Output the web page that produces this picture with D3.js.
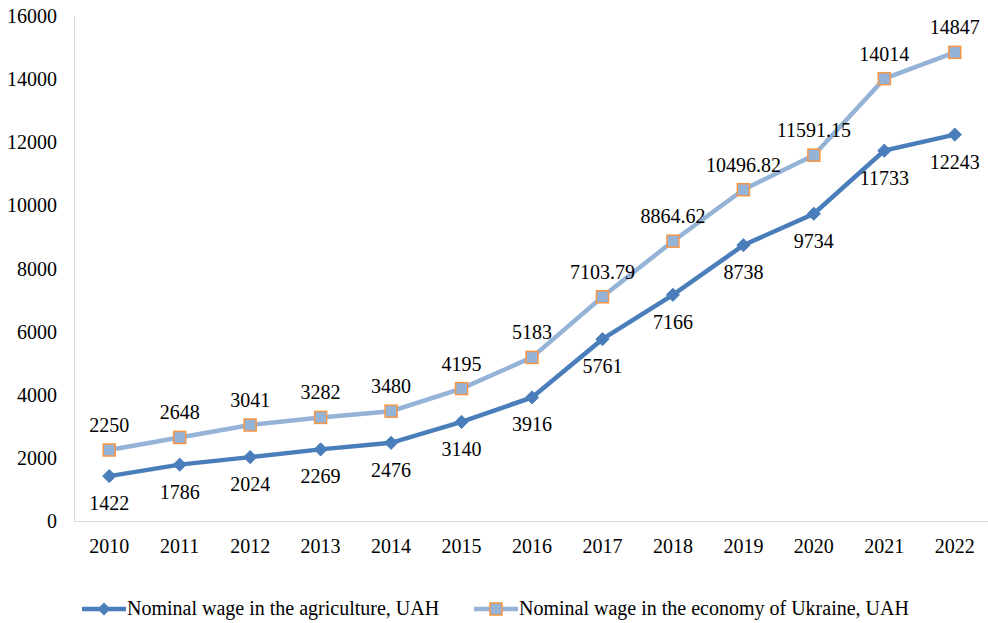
<!DOCTYPE html>
<html>
<head>
<meta charset="utf-8">
<script src="https://cdn.jsdelivr.net/npm/d3@7"></script>
<style>
  body { margin: 0; background: #fff; }
</style>
</head>
<body>
<svg id="chart" width="988" height="623"></svg>
<script>
const years = ["2010", "2011", "2012", "2013", "2014", "2015", "2016", "2017", "2018", "2019", "2020", "2021", "2022"];
const agriculture = [1422, 1786, 2024, 2269, 2476, 3140, 3916, 5761, 7166, 8738, 9734, 11733, 12243];
const economy = [2250, 2648, 3041, 3282, 3480, 4195, 5183, 7103.79, 8864.62, 10496.82, 11591.15, 14014, 14847];
const yTicks = [0, 2000, 4000, 6000, 8000, 10000, 12000, 14000, 16000];

const svg = d3.select("#chart");
const fs = "20px";
const ff = '"Liberation Serif"';

const x = d3.scaleBand()
            .domain(years)
            .range([74, 990]);

const y = d3.scaleLinear()
            .domain([0, 16000])
            .range([521, 16]);

const cx = d => x(d) + x.bandwidth() / 2;

// axes
svg.append("line")
   .attr("x1", 74.5).attr("x2", 74.5)
   .attr("y1", 16).attr("y2", 521)
   .attr("stroke", "#d9d9d9").attr("stroke-width", 1);
svg.append("line")
   .attr("x1", 74).attr("x2", 990)
   .attr("y1", 521.5).attr("y2", 521.5)
   .attr("stroke", "#d9d9d9").attr("stroke-width", 1);

svg.selectAll(".ytick")
   .data(yTicks)
   .enter().append("text")
   .attr("class", "ytick")
   .attr("x", 57)
   .attr("y", d => y(d) + 7)
   .attr("text-anchor", "end")
   .style("font-family", ff)
   .style("font-size", fs)
   .text(d => d);

svg.selectAll(".xtick")
   .data(years)
   .enter().append("text")
   .attr("class", "xtick")
   .attr("x", d => cx(d))
   .attr("y", 553)
   .attr("text-anchor", "middle")
   .style("font-family", ff)
   .style("font-size", fs)
   .text(d => d);

const line = d3.line()
               .x((d, i) => cx(years[i]))
               .y(d => y(d));

// economy series
svg.append("path")
   .datum(economy)
   .attr("d", line)
   .attr("fill", "none")
   .attr("stroke", "#95b3d7")
   .attr("stroke-width", 4.5);

// agriculture series
svg.append("path")
   .datum(agriculture)
   .attr("d", line)
   .attr("fill", "none")
   .attr("stroke", "#4a7ebb")
   .attr("stroke-width", 4.5);

const diamond = d3.symbol().type(d3.symbolDiamond2).size(110);

svg.selectAll(".agr")
   .data(agriculture)
   .enter().append("path")
   .attr("class", "agr")
   .attr("d", diamond)
   .attr("transform", (d, i) => `translate(${cx(years[i])},${y(d)})`)
   .attr("fill", "#4a7ebb")
   .attr("stroke", "#4a7ebb")
   .attr("stroke-width", 1);

svg.selectAll(".eco")
   .data(economy)
   .enter().append("rect")
   .attr("class", "eco")
   .attr("x", (d, i) => cx(years[i]) - 6)
   .attr("y", d => y(d) - 6)
   .attr("width", 12)
   .attr("height", 12)
   .attr("fill", "#95b3d7")
   .attr("stroke", "#f79646")
   .attr("stroke-width", 1.5);

// data labels
svg.selectAll(".agrlbl")
   .data(agriculture)
   .enter().append("text")
   .attr("class", "agrlbl")
   .attr("x", (d, i) => cx(years[i]))
   .attr("y", d => y(d) + 34)
   .attr("text-anchor", "middle")
   .style("font-family", ff)
   .style("font-size", fs)
   .text(d => d);

svg.selectAll(".ecolbl")
   .data(economy)
   .enter().append("text")
   .attr("class", "ecolbl")
   .attr("x", (d, i) => cx(years[i]))
   .attr("y", d => y(d) - 18)
   .attr("text-anchor", "middle")
   .style("font-family", ff)
   .style("font-size", fs)
   .text(d => d);

// legend
const legend = [
  { label: "Nominal wage in the agriculture, UAH", x: 82, kind: "diamond" },
  { label: "Nominal wage in the economy of Ukraine, UAH", x: 474, kind: "square" }
];

const lg = svg.selectAll(".legend")
              .data(legend)
              .enter().append("g")
              .attr("class", "legend")
              .attr("transform", d => `translate(${d.x},609)`);

lg.append("line")
  .attr("x1", 0).attr("x2", 44)
  .attr("y1", 0).attr("y2", 0)
  .attr("stroke", d => d.kind === "diamond" ? "#4a7ebb" : "#95b3d7")
  .attr("stroke-width", 4.5);

lg.filter(d => d.kind === "diamond")
  .append("path")
  .attr("d", diamond)
  .attr("transform", "translate(22,0)")
  .attr("fill", "#4a7ebb");

lg.filter(d => d.kind === "square")
  .append("rect")
  .attr("x", 16).attr("y", -6)
  .attr("width", 12).attr("height", 12)
  .attr("fill", "#95b3d7")
  .attr("stroke", "#f79646")
  .attr("stroke-width", 1.5);

lg.append("text")
  .attr("x", 45)
  .attr("y", 6)
  .style("font-family", ff)
  .style("font-size", fs)
  .text(d => d.label);
</script>
</body>
</html>
